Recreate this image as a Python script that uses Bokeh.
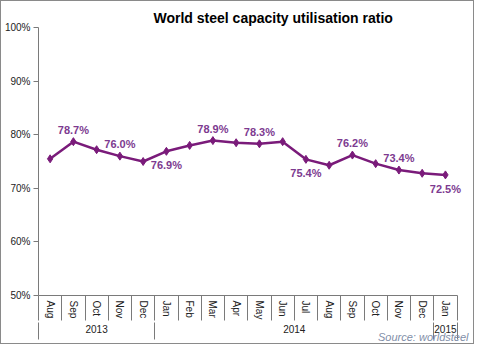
import numpy as np
from bokeh.plotting import figure
from bokeh.core.properties import value
from bokeh.models import (ColumnDataSource, FixedTicker, LinearAxis, Range1d,
                          PrintfTickFormatter, Title, LabelSet)
from bokeh.embed import file_html
from bokeh.resources import INLINE

# ---- data ----
months = ["Aug", "Sep", "Oct", "Nov", "Dec", "Jan", "Feb", "Mar", "Apr", "May",
          "Jun", "Jul", "Aug", "Sep", "Oct", "Nov", "Dec", "Jan"]
years = ["2013"] * 5 + ["2014"] * 12 + ["2015"]
ratio = [75.5, 78.7, 77.2, 76.0, 75.0, 76.9, 78.0, 78.9, 78.5, 78.3,
         78.7, 75.4, 74.3, 76.2, 74.6, 73.4, 72.8, 72.5]
labelled_above = [1, 3, 7, 9, 13, 15]
labelled_below = [5, 11, 17]
y_ticks = [50, 60, 70, 80, 90, 100]

LINE = "#7a1b7a"
LABEL = "#7d3a90"
AXIS = "#7a7a7a"
FONT = "Liberation Sans"

n = len(months)
xc = np.arange(n) + 0.5
src = ColumnDataSource(dict(x=xc, y=ratio))

p = figure(width=474, height=344, output_backend="svg", toolbar_location=None,
           x_range=Range1d(0, n + 0.75), y_range=Range1d(y_ticks[0], y_ticks[-1]),
           x_axis_location=None, y_axis_location=None,
           min_border_left=33, min_border_right=1, min_border_top=26,
           min_border_bottom=0)
p.outline_line_color = None
p.grid.visible = False
p.styles = {"border": "1px solid #8a8a8a"}

# title
p.title = Title(text="World steel capacity utilisation ratio", align="left",
                offset=115, standoff=3, text_font=FONT, text_font_size="14px",
                text_font_style="bold", text_color="#000000")

# y axis
yax = LinearAxis(ticker=FixedTicker(ticks=y_ticks, minor_ticks=[]),
                 formatter=PrintfTickFormatter(format="%d%%"))
yax.axis_line_color = AXIS
yax.major_tick_line_color = AXIS
yax.major_tick_out = 5
yax.major_tick_in = 0
yax.major_label_standoff = 3
yax.major_label_text_font = FONT
yax.major_label_text_font_size = "10px"
yax.major_label_text_color = "#222222"
p.add_layout(yax, "left")

# month axis: labels at centres, separators as minor ticks at boundaries
MONTH_SEP = 25
bounds = list(range(n + 1))
max_ax = LinearAxis(ticker=FixedTicker(ticks=list(xc), minor_ticks=bounds),
                    bounds=(0, n))
max_ax.major_label_overrides = {float(x): m for x, m in zip(xc, months)}
max_ax.major_label_orientation = "vertical"
max_ax.major_tick_out = 0
max_ax.major_tick_in = 0
max_ax.major_tick_line_color = None
max_ax.minor_tick_out = MONTH_SEP
max_ax.minor_tick_in = 0
max_ax.minor_tick_line_color = AXIS
max_ax.axis_line_color = AXIS
max_ax.major_label_standoff = 5 - MONTH_SEP
max_ax.major_label_text_font = FONT
max_ax.major_label_text_font_size = "10px"
max_ax.major_label_text_color = "#222222"
p.add_layout(max_ax, "below")

# year axis
year_names = []
year_bounds = [0]
for i, yv in enumerate(years):
    if not year_names or year_names[-1] != yv:
        if year_names:
            year_bounds.append(i)
        year_names.append(yv)
year_bounds.append(n)
year_centres = [(a + b) / 2 for a, b in zip(year_bounds[:-1], year_bounds[1:])]
YEAR_SEP = 17
yr_ax = LinearAxis(ticker=FixedTicker(ticks=year_centres, minor_ticks=year_bounds),
                   bounds=(0, n))
yr_ax.major_label_overrides = {float(c): yn for c, yn in zip(year_centres, year_names)}
yr_ax.major_tick_out = 0
yr_ax.major_tick_in = 0
yr_ax.major_tick_line_color = None
yr_ax.minor_tick_out = YEAR_SEP
yr_ax.minor_tick_in = 0
yr_ax.minor_tick_line_color = AXIS
yr_ax.axis_line_color = None
yr_ax.major_label_standoff = 2 - YEAR_SEP
yr_ax.major_label_text_font = FONT
yr_ax.major_label_text_font_size = "10px"
yr_ax.major_label_text_color = "#222222"
p.add_layout(yr_ax, "below")

# source note
p.add_layout(Title(text="Source: worldsteel", align="right", offset=6, standoff=-9,
                   vertical_align="top",
                   text_font=FONT, text_font_size="11px", text_font_style="italic",
                   text_color="#7f8ea8"), "below")
# small bottom spacer
p.add_layout(Title(text=" ", standoff=0, text_font_size="3px"), "below")

# series
p.line("x", "y", source=src, line_color=LINE, line_width=2.5)
p.scatter("x", "y", source=src, marker="diamond", size=8, color=LINE)

src_above = ColumnDataSource(dict(x=[xc[i] for i in labelled_above],
                                  y=[ratio[i] for i in labelled_above],
                                  t=[f"{ratio[i]:.1f}%" for i in labelled_above]))
src_below = ColumnDataSource(dict(x=[xc[i] for i in labelled_below],
                                  y=[ratio[i] for i in labelled_below],
                                  t=[f"{ratio[i]:.1f}%" for i in labelled_below]))
p.add_layout(LabelSet(x="x", y="y", text="t", source=src_above, text_align="center",
                      text_baseline="bottom", y_offset=6, text_font=value(FONT),
                      text_font_size=value("11px"), text_font_style=value("bold"),
                      text_color=value(LABEL)))
p.add_layout(LabelSet(x="x", y="y", text="t", source=src_below, text_align="center",
                      text_baseline="top", y_offset=-8, text_font=value(FONT),
                      text_font_size=value("11px"), text_font_style=value("bold"),
                      text_color=value(LABEL)))

open("out.html", "w").write(file_html(p, INLINE))
